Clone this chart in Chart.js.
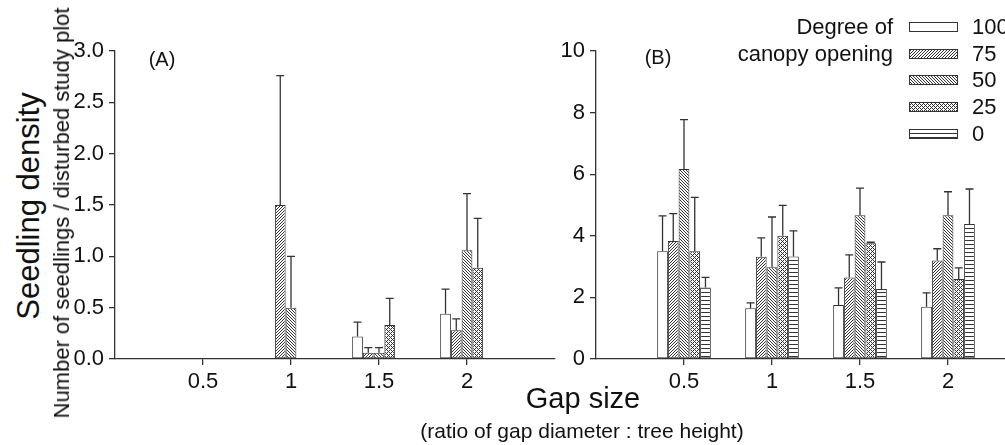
<!DOCTYPE html>
<html>
<head>
<meta charset="utf-8">
<script src="https://cdn.jsdelivr.net/npm/chart.js@4/dist/chart.umd.min.js"></script>
<style>
  html, body { margin: 0; padding: 0; background: #fff; overflow: hidden; }
  body { width: 1005px; height: 445px; position: relative; font-family: 'Liberation Sans', Arial, sans-serif; color: #111; }
  canvas { position: absolute; top: 0; }
  .txt { position: absolute; white-space: nowrap; }
  .rot { transform: translate(-50%, -50%) rotate(-90deg); }
  .ctr { transform: translate(-50%, -50%); }
</style>
</head>
<body>
<canvas id="chartA" width="500" height="410" style="left:60px"></canvas>
<canvas id="chartB" width="500" height="410" style="left:540px"></canvas>

<div class="txt rot" style="left:29px; top:206px; font-size:31px;">Seedling density</div>
<div class="txt rot" style="left:62px; top:213px; font-size:22px;">Number of seedlings / disturbed study plot</div>
<div class="txt ctr" style="left:162px; top:59px; font-size:20px;">(A)</div>
<div class="txt ctr" style="left:658px; top:57px; font-size:20px;">(B)</div>
<div class="txt ctr" style="left:583px; top:398px; font-size:29px;">Gap size</div>
<div class="txt ctr" style="left:582px; top:431px; font-size:21px;">(ratio of gap diameter : tree height)</div>
<div class="txt" style="right:112px; top:14px; font-size:22px; line-height:26.6px; text-align:right;">Degree of<br>canopy opening</div>
<div id="legend" class="txt" style="left:909px; top:14px;"></div>

<script>
// gap size classes (x axis) and canopy opening classes (series)
const gapSizes = ['0.5', '1', '1.5', '2'];
const openings = ['100', '75', '50', '25', '0'];

// (A) seedlings per disturbed plot, mean and upper SE
const a100 = [0, 0, 0.22, 0.44];
const a75 = [0, 1.5, 0.06, 0.28];
const a50 = [0, 0.5, 0.06, 1.06];
const a25 = [0, 0, 0.33, 0.89];
const a0 = [0, 0, 0, 0];
const a100Err = [0, 0, 0.14, 0.24];
const a75Err = [0, 1.26, 0.05, 0.11];
const a50Err = [0, 0.5, 0.05, 0.55];
const a25Err = [0, 0, 0.26, 0.48];
const a0Err = [0, 0, 0, 0];

// (B)
const b100 = [3.5, 1.65, 1.75, 1.7];
const b75 = [3.83, 3.32, 2.65, 3.2];
const b50 = [6.17, 2.98, 4.67, 4.67];
const b25 = [3.5, 4.0, 3.76, 2.6];
const b0 = [2.32, 3.33, 2.27, 4.38];
const b100Err = [1.15, 0.17, 0.56, 0.45];
const b75Err = [0.89, 0.61, 0.73, 0.38];
const b50Err = [1.6, 1.63, 0.88, 0.76];
const b25Err = [1.75, 0.99, 0.03, 0.36];
const b0Err = [0.33, 0.83, 0.88, 1.14];

const yTicksA = [0, 0.5, 1, 1.5, 2, 2.5, 3];
const yTicksB = [0, 2, 4, 6, 8, 10];

const ink = '#333';
const font = { family: "'Liberation Sans', Arial, sans-serif", size: 22 };

// hatch fills
function makePattern(kind) {
  if (kind === 'none') return '#fff';
  const n = kind === 'fwd' || kind === 'back' ? 3 : 4;
  const c = document.createElement('canvas');
  c.width = n; c.height = n;
  const g = c.getContext('2d');
  g.fillStyle = '#fff';
  g.fillRect(0, 0, n, n);
  g.fillStyle = '#333';
  for (let x = 0; x < n; x++) {
    for (let y = 0; y < n; y++) {
      let on = false;
      if (kind === 'fwd') on = (x + y) % n === n - 1;
      if (kind === 'back') on = (x - y + n) % n === 0;
      if (kind === 'cross') on = (x + y) % 4 === 3 || (x - y + 4) % 4 === 1;
      if (kind === 'horiz') on = y === 0;
      if (on) g.fillRect(x, y, 1, 1);
    }
  }
  return g.createPattern(c, 'repeat');
}
const fills = [makePattern('none'), makePattern('fwd'), makePattern('back'), makePattern('cross'), makePattern('horiz')];

const pad = arr => [null, ...arr, null];
const xLabels = ['', ...gapSizes, ''];

function datasets(series, errs) {
  return series.map((s, i) => ({
    label: openings[i],
    data: pad(s),
    errors: pad(errs[i]),
    backgroundColor: fills[i],
    borderColor: ink,
    borderWidth: 1,
    borderSkipped: false,
    categoryPercentage: 0.61,
    barPercentage: 1
  }));
}

const errorBars = {
  id: 'errorBars',
  afterDatasetsDraw(chart) {
    const ctx = chart.ctx;
    const y = chart.scales.y;
    ctx.save();
    ctx.strokeStyle = ink;
    ctx.lineWidth = 1.3;
    chart.data.datasets.forEach((ds, i) => {
      const meta = chart.getDatasetMeta(i);
      meta.data.forEach((bar, j) => {
        const v = ds.data[j], e = ds.errors[j];
        if (v == null || !e) return;
        const top = y.getPixelForValue(v + e);
        ctx.beginPath();
        ctx.moveTo(bar.x, bar.y);
        ctx.lineTo(bar.x, top);
        ctx.moveTo(bar.x - 4, top);
        ctx.lineTo(bar.x + 4, top);
        ctx.stroke();
      });
    });
    ctx.restore();
  }
};

function options(yMax, yTicks, yWidth, digits, padRight) {
  return {
    responsive: false,
    animation: false,
    layout: { padding: { top: 51, right: padRight, left: 0, bottom: 0 } },
    plugins: { legend: { display: false }, tooltip: { enabled: false } },
    scales: {
      x: {
        type: 'category',
        offset: false,
        grid: { offset: false, drawOnChartArea: false, drawTicks: true, tickLength: 6, color: ink, lineWidth: 1.3 },
        border: { color: ink, width: 1.3 },
        ticks: { color: '#111', font: font, padding: 4, maxRotation: 0, autoSkip: false },
        afterBuildTicks: s => { s.ticks = s.ticks.filter(t => t.value > 0 && t.value < xLabels.length - 1); },
        afterFit: s => { s.height = 51; }
      },
      y: {
        min: 0,
        max: yMax,
        grid: { drawOnChartArea: false, drawTicks: true, tickLength: 6, color: ink, lineWidth: 1.3 },
        border: { color: ink, width: 1.3 },
        ticks: { color: '#111', font: font, padding: 5, callback: v => Number(v).toFixed(digits) },
        afterBuildTicks: s => { s.ticks = yTicks.map(v => ({ value: v })); },
        afterFit: s => { s.width = yWidth; }
      }
    }
  };
}

new Chart(document.getElementById('chartA'), {
  type: 'bar',
  data: { labels: xLabels, datasets: datasets([a100, a75, a50, a25, a0], [a100Err, a75Err, a50Err, a25Err, a0Err]) },
  options: options(3, yTicksA, 55, 1, 5),
  plugins: [errorBars]
});

new Chart(document.getElementById('chartB'), {
  type: 'bar',
  data: { labels: xLabels, datasets: datasets([b100, b75, b50, b25, b0], [b100Err, b75Err, b50Err, b25Err, b0Err]) },
  options: options(10, yTicksB, 56, 0, 4),
  plugins: [errorBars]
});

// legend
const legend = document.getElementById('legend');
openings.forEach((name, i) => {
  const row = document.createElement('div');
  row.style.cssText = 'height:26.6px; display:flex; align-items:center; font-size:22px;';
  const sw = document.createElement('canvas');
  sw.width = 49; sw.height = 10;
  sw.style.cssText = 'position:static; margin-right:14px;';
  const g = sw.getContext('2d');
  g.fillStyle = fills[i];
  g.fillRect(0, 0, 49, 10);
  g.strokeStyle = ink;
  g.lineWidth = 1;
  g.strokeRect(0.5, 0.5, 48, 9);
  row.appendChild(sw);
  row.appendChild(document.createTextNode(name));
  legend.appendChild(row);
});
</script>
</body>
</html>
